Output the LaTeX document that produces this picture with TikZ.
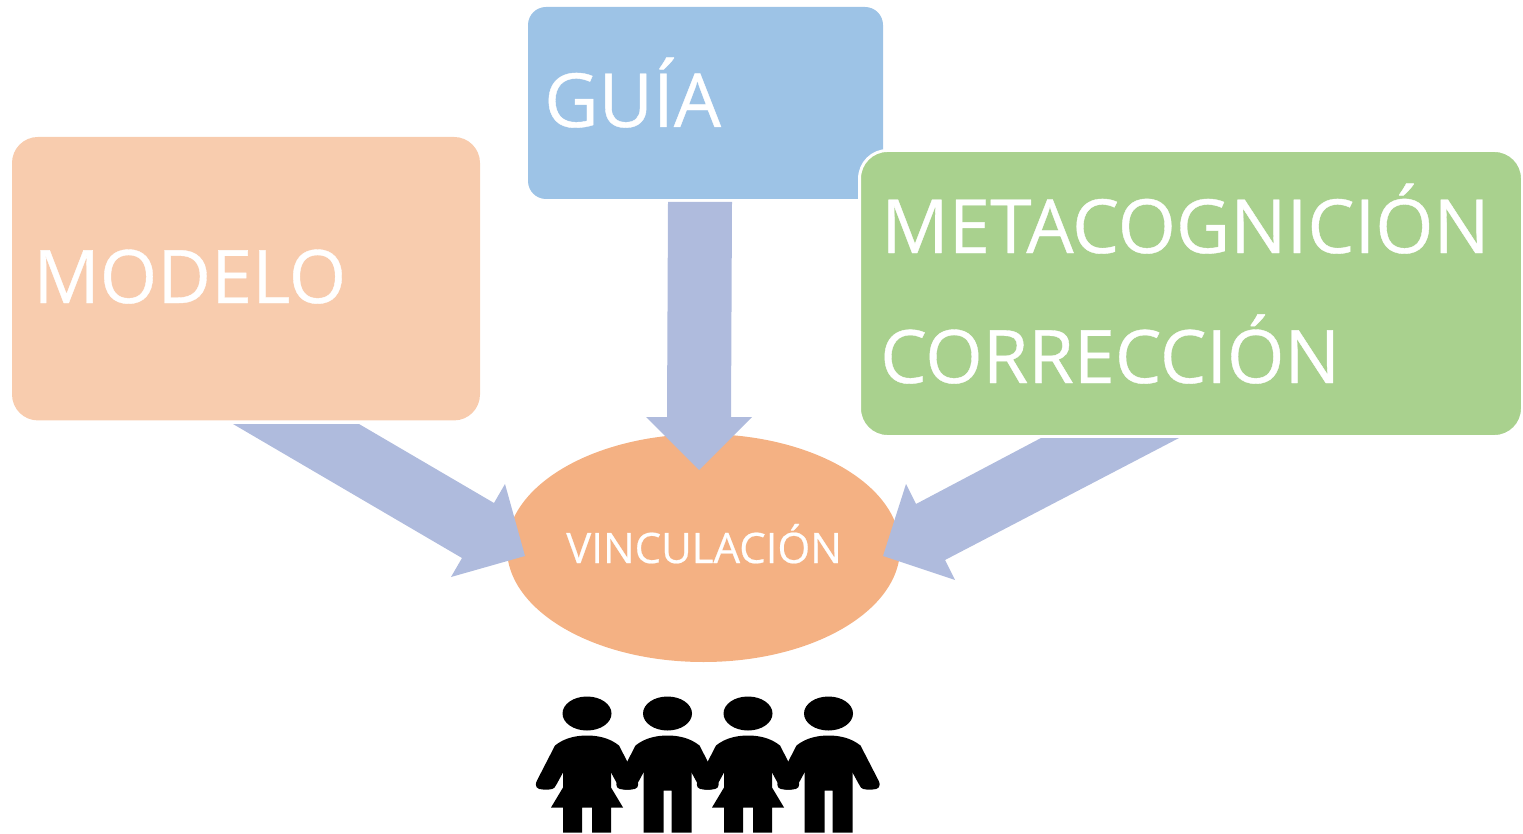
\documentclass[tikz,border=0pt]{standalone}
\usepackage{fontspec}
\setmainfont[FakeBold=0.5]{Open Sans}
\usetikzlibrary{shapes.geometric}
\definecolor{peach}{HTML}{F8CCAE}
\definecolor{skyb}{HTML}{9DC3E6}
\definecolor{leaf}{HTML}{A9D18E}
\definecolor{orangeb}{HTML}{F4B183}
\definecolor{arrowb}{HTML}{AFBBDD}
\tikzset{
  x=0.75pt,y=-0.75pt,
  box/.style={rectangle,inner sep=0pt,outer sep=0pt},
  bigtext/.style={text=white,font=\fontsize{56}{60}\selectfont,anchor=base west,inner sep=0pt},
  block/.style={fill=arrowb,draw=none},
  upper body/.pic={
    \fill (0,0) ellipse [x radius=24.5,y radius=17];
    \fill (-32,32) .. controls (-22,24) and (-10,22) .. (0,22) .. controls (10,22) and (22,24) .. (32,32)
      -- (50,67) .. controls (53,73) and (50,76) .. (44,76) -- (38,76) .. controls (33,76) and (31,73) .. (30,70)
      -- (24,59) -- (-24,59) -- (-30,70) .. controls (-31,73) and (-33,76) .. (-38,76) -- (-44,76)
      .. controls (-50,76) and (-53,73) .. (-50,67) -- cycle;
  },
  woman/.pic={
    \pic {upper body};
    \fill (-24,50) -- (24,50) -- (24,74) -- (36,94) -- (24,94) -- (24,119) -- (5,119) -- (5,94)
      -- (-5,94) -- (-5,119) -- (-24,119) -- (-24,94) -- (-36,94) -- (-24,74) -- cycle;
  },
  man/.pic={
    \pic {upper body};
    \fill (-24,50) -- (24,50) -- (24,119) -- (4,119) -- (4,77) -- (-4,77) -- (-4,119) -- (-24,119) -- cycle;
  }
}
\begin{document}
\begin{tikzpicture}
\useasboundingbox (0,0) rectangle (1523,834);
% boxes
\node[box,fill=peach,rounded corners=19.5pt,minimum width=351pt,minimum height=212.6pt] (modelobox) at (246,278.7) {};
\node[box,fill=skyb,rounded corners=13.5pt,minimum width=266.25pt,minimum height=144pt] (guiabox) at (705.5,103) {};
\node[box,fill=leaf,draw=white,line width=2.2pt,rounded corners=21pt,minimum width=497.2pt,minimum height=214.5pt] (metabox) at (1191,293.5) {};
\node[fill=orangeb,ellipse,minimum width=295pt,minimum height=171pt,inner sep=0pt] (vinc) at (703.5,548) {};
% block arrows
\fill[block] (233,424) -- (359,424) -- (494,503) -- (505,484) -- (525,556) -- (451,577) -- (462,558) -- cycle;
\fill[block] (668,202) -- (732,202) -- (731,417) -- (752,417) -- (699,470) -- (646,417) -- (667,417) -- cycle;
\fill[block] (1041,438) -- (1179,438) -- (945,560) -- (955,580) -- (883,556) -- (906,484) -- (916,504) -- cycle;
% labels
\node[bigtext,font=\fontsize{55.3}{60}\selectfont] (t1) at (33,303) {MODELO};
\node[bigtext] (t2) at (544,127) {GUÍA};
\node[bigtext] (t3) at (881,253) {METACOGNICIÓN};
\node[bigtext,font=\fontsize{55.3}{60}\selectfont] (t4) at (880,383) {CORRECCIÓN};
\node[text=white,font=\fontsize{31.5}{36}\selectfont,anchor=base west,inner sep=0pt] (t5) at (566,563) {VINCULACIÓN};
% people
\pic at (587,713.5) {woman};
\pic at (667.5,713.5) {man};
\pic at (748,713.5) {woman};
\pic at (828.5,713.5) {man};
\end{tikzpicture}
\end{document}
